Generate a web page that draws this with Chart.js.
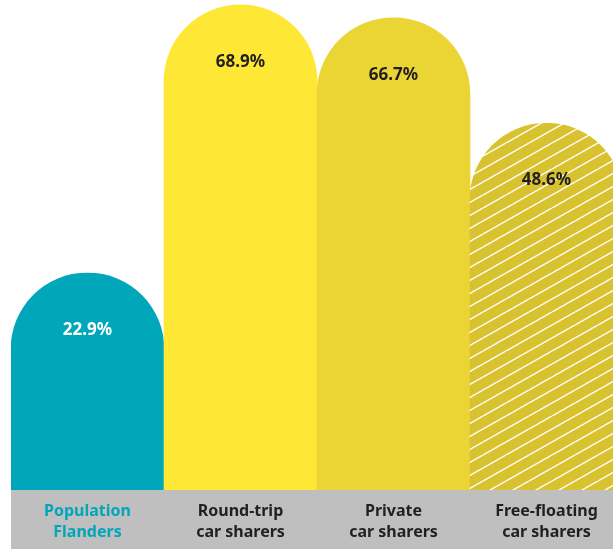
<!DOCTYPE html>
<html>
<head>
<meta charset="utf-8">
<script src="https://cdn.jsdelivr.net/npm/chart.js@4/dist/chart.umd.min.js"></script>
<style>
  html, body { margin: 0; padding: 0; background: #fff; overflow: hidden; }
  /* a little wider than the window so the last bar runs off the right edge */
  #wrap { width: 623px; height: 549px; }
</style>
</head>
<body>
<div id="wrap"><canvas id="bars"></canvas></div>
<script>
const categories = [["Population", "Flanders"], ["Round-trip", "car sharers"], ["Private", "car sharers"], ["Free-floating", "car sharers"]];
const shares = [22.9, 68.9, 66.7, 48.6];
const yMin = -14.35;
const yMax = 69.75;

const TEAL = "#00a6b9";
const DARK = "#231f20";

// diagonal white stripes for the free-floating bar
function stripes(base) {
  const w = 23, h = 13;
  const c = document.createElement("canvas");
  c.width = w;
  c.height = h;
  const g = c.getContext("2d");
  g.fillStyle = base;
  g.fillRect(0, 0, w, h);
  g.strokeStyle = "#ffffff";
  g.lineWidth = 1.4;
  [-h, 0, h].forEach(function (dy) {
    g.beginPath();
    g.moveTo(0, h + dy);
    g.lineTo(w, dy);
    g.stroke();
  });
  return g.createPattern(c, "repeat");
}

const fills = [TEAL, "#ffe835", "#ebd535", stripes("#d9c22f")];

// grey band behind the category labels
const band = {
  id: "band",
  beforeDraw(chart) {
    const { ctx, chartArea } = chart;
    ctx.save();
    ctx.fillStyle = "#bfbfbf";
    ctx.fillRect(chartArea.left, chartArea.bottom, chart.width - chartArea.left, chart.height - chartArea.bottom);
    ctx.restore();
  }
};

// percentage inside each rounded top
const valueLabels = {
  id: "valueLabels",
  afterDatasetsDraw(chart) {
    const ctx = chart.ctx;
    const meta = chart.getDatasetMeta(0);
    ctx.save();
    ctx.font = "bold 17px 'Noto Sans'";
    ctx.textAlign = "center";
    ctx.textBaseline = "middle";
    meta.data.forEach(function (bar, i) {
      ctx.fillStyle = i === 0 ? "#ffffff" : DARK;
      ctx.fillText(shares[i].toFixed(1) + "%", bar.x, bar.y + 57);
    });
    ctx.restore();
  }
};

new Chart(document.getElementById("bars"), {
  type: "bar",
  data: {
    labels: categories,
    datasets: [{
      data: shares,
      base: yMin,
      backgroundColor: fills,
      borderWidth: 0,
      borderRadius: { topLeft: 76.5, topRight: 76.5, bottomLeft: 0, bottomRight: 0 },
      borderSkipped: "bottom",
      barPercentage: 1,
      categoryPercentage: 1
    }]
  },
  options: {
    responsive: true,
    maintainAspectRatio: false,
    animation: false,
    layout: { padding: { left: 11, right: 0, top: 0, bottom: 0 } },
    plugins: {
      legend: { display: false },
      tooltip: { enabled: false }
    },
    scales: {
      x: {
        grid: { display: false, drawTicks: false },
        border: { display: false },
        afterFit(scale) { scale.height = 59; },
        ticks: {
          padding: 11,
          maxRotation: 0,
          autoSkip: false,
          color: function (c) { return c.index === 0 ? TEAL : DARK; },
          font: { family: "Noto Sans", weight: "bold", size: 16, lineHeight: 1.32 }
        }
      },
      y: {
        display: false,
        min: yMin,
        max: yMax
      }
    }
  },
  plugins: [band, valueLabels]
});
</script>
</body>
</html>
